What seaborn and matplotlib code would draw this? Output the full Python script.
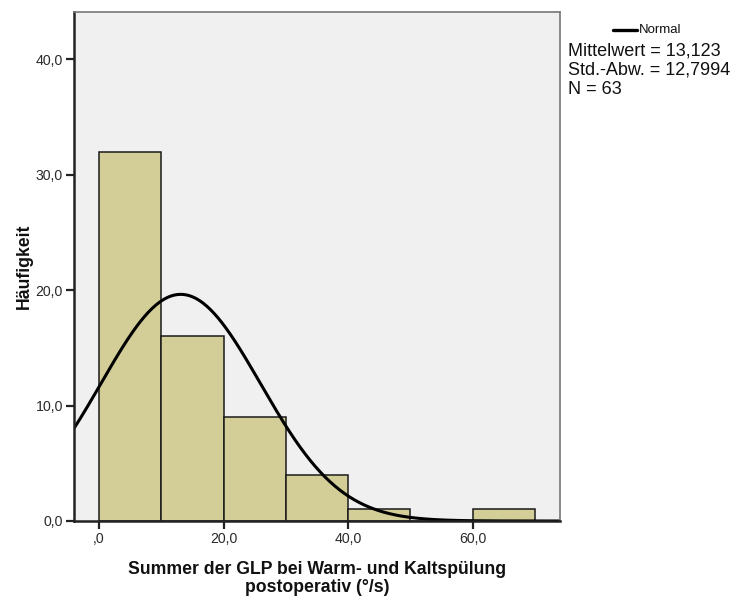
import numpy as np
import pandas as pd
import matplotlib
matplotlib.use("Agg")
import matplotlib.pyplot as plt
import seaborn as sns

# Histogram bins (°/s) and frequencies
bin_edges = [0, 10, 20, 30, 40, 50, 60, 70]
counts = [32, 16, 9, 4, 1, 0, 1]

# Summary statistics
mean_val = 13.123
sd_val = 12.7994
n_val = 63

y_ticks = [0, 10, 20, 30, 40]
x_ticks = [0, 20, 40, 60]
x_tick_labels = [",0", "20,0", "40,0", "60,0"]
y_tick_labels = ["0,0", "10,0", "20,0", "30,0", "40,0"]


def de_num(value, digits):
    return f"{value:.{digits}f}".replace(".", ",")


sns.set_style("white")
plt.rcParams["font.family"] = ["Liberation Sans", "DejaVu Sans"]

fig = plt.figure(figsize=(7.45, 5.97), dpi=100)
ax = fig.add_axes([74 / 745, 76 / 597, (560 - 74) / 745, (521 - 12) / 597])
ax.set_facecolor("#f0f0f0")

centers = [(a + b) / 2 for a, b in zip(bin_edges[:-1], bin_edges[1:])]
hist_df = pd.DataFrame({"wert": centers, "anzahl": counts})
sns.histplot(data=hist_df, x="wert", weights="anzahl", bins=bin_edges,
             color="#d3ce97", alpha=1.0, edgecolor="#1a1a1a", linewidth=1.1, ax=ax)

# Normal curve scaled to counts per bin width
xs = np.linspace(-4, 74, 400)
width = bin_edges[1] - bin_edges[0]
ys = n_val * width / (sd_val * np.sqrt(2 * np.pi)) * np.exp(-0.5 * ((xs - mean_val) / sd_val) ** 2)
curve_df = pd.DataFrame({"x": xs, "y": ys})
sns.lineplot(data=curve_df, x="x", y="y", color="black", linewidth=2.2, ax=ax)

ax.set_xlim(-4, 74)
ax.set_ylim(0, 44.1)
ax.set_xticks(x_ticks)
ax.set_xticklabels(x_tick_labels)
ax.set_yticks(y_ticks)
ax.set_yticklabels(y_tick_labels)
ax.tick_params(axis="both", which="major", bottom=True, left=True, direction="out",
               length=6, width=1.6, color="#222222",
               labelsize=10.2, labelcolor="#2a2a2a", pad=2)

for side in ["top", "right"]:
    ax.spines[side].set_color("#777777")
    ax.spines[side].set_linewidth(1.2)
for side in ["left", "bottom"]:
    ax.spines[side].set_color("#222222")
    ax.spines[side].set_linewidth(1.8)

ax.set_xlabel("Summer der GLP bei Warm- und Kaltspülung\npostoperativ (°/s)",
              fontsize=12.7, fontweight="bold", color="#111111", labelpad=11, linespacing=1.08)
ax.set_ylabel("Häufigkeit", fontsize=12.7, fontweight="bold", color="#111111", labelpad=2)

# Legend entry and statistics box
fig.lines.append(plt.Line2D([613 / 745, 637 / 745], [1 - 30 / 597, 1 - 30 / 597],
                            color="black", linewidth=2.4, transform=fig.transFigure))
fig.text(639 / 745, 1 - 30 / 597, "Normal", fontsize=9.5, va="center", ha="left", color="#111111")
stats = (f"Mittelwert = {de_num(mean_val, 3)}\n"
         f"Std.-Abw. = {de_num(sd_val, 4)}\n"
         f"N = {n_val}")
fig.text(568 / 745, 1 - 43 / 597, stats, fontsize=13.0, va="top", ha="left",
         color="#111111", linespacing=1.14)

fig.savefig("out.png", dpi=100)
